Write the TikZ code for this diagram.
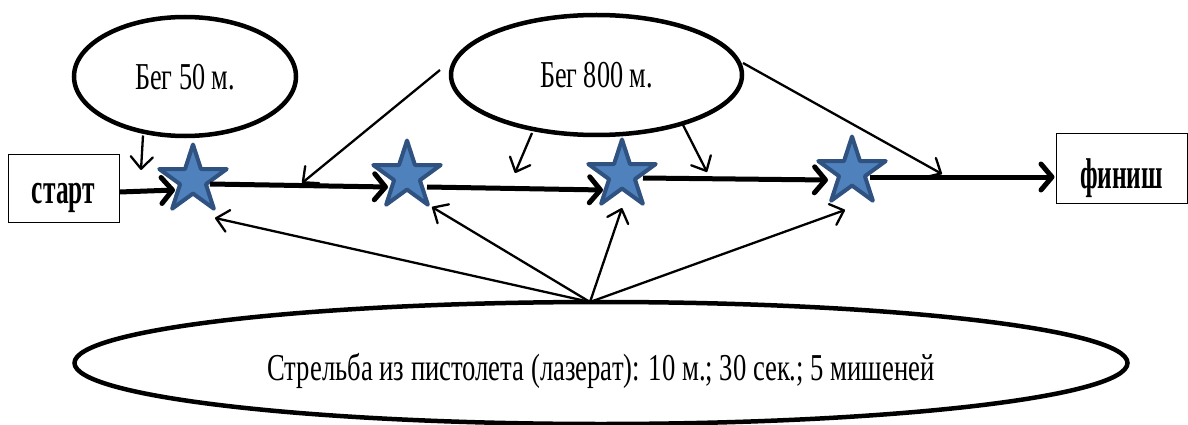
\documentclass[tikz,border=0pt]{standalone}
\usepackage{fontspec}
\setmainfont{Liberation Serif}
\usepackage{graphicx}
\usetikzlibrary{shapes.geometric,arrows.meta,calc}
\definecolor{starfill}{HTML}{4F81BD}
\definecolor{starline}{HTML}{2F5280}
\begin{document}
\begin{tikzpicture}[x=1pt,y=-1pt,
  oval/.style={ellipse,draw,line width=4.5pt,inner sep=0pt,text depth=0pt},
  box/.style={rectangle,draw,line width=1pt,inner sep=0pt,text depth=0pt},
  starnode/.style={star,star points=5,star point ratio=2.618,minimum size=71pt,inner sep=0pt,fill=starfill,draw=starline,line width=4pt,line join=round},
  track/.style={line width=5pt,-{Straight Barb[length=11pt,width=26pt,round]}},
  pointer/.style={line width=2.3pt,-{Straight Barb[length=12pt,width=22pt,round]}},
]
\useasboundingbox (0,0) rectangle (1188,425);
% ovals
\node[oval,minimum width=222pt,minimum height=119pt,text height=27pt] (run50) at (185,76.5)
  {\resizebox{100pt}{\height}{\fontsize{38}{40}\selectfont Бег 50 м.}};
\node[oval,minimum width=291pt,minimum height=120pt,text height=26pt] (run800) at (596.5,75)
  {\resizebox{113pt}{\height}{\fontsize{38}{40}\selectfont Бег 800 м.}};
\node[oval,minimum width=1053pt,minimum height=122pt,text height=34pt] (shoot) at (601,363)
  {\resizebox{667pt}{\height}{\fontsize{38}{40}\selectfont Стрельба из пистолета (лазерат): 10 м.; 30 сек.; 5 мишеней}};
% boxes
\node[box,minimum width=111pt,minimum height=68pt,text height=30pt] (start) at (63.5,188)
  {\resizebox{63pt}{\height}{\fontsize{43}{45}\selectfont\bfseries старт}};
\node[box,minimum width=131pt,minimum height=69pt,text height=39pt] (finish) at (1121.5,168.5)
  {\resizebox{83pt}{\height}{\fontsize{43}{45}\selectfont\bfseries финиш}};
% stars
\node[starnode] (s1) at (193,180) {};
\node[starnode] (s2) at (407,176) {};
\node[starnode] (s3) at (622,175) {};
\node[starnode] (s4) at (852,172) {};
% track
\draw[track] ($(start.east)+(0,4)$) -- ($(s1)+(-18,10)$);
\draw[track] ($(s1)+(17,4)$) -- ($(s2)+(-19,11)$);
\draw[track] ($(s2)+(20,11)$) -- ($(s3)+(-19,15)$);
\draw[track] ($(s3)+(21,3)$) -- ($(s4)+(-24,8)$);
\draw[track] ($(s4)+(18,5)$) -- ($(finish.west)+(-1,8.5)$);
% running pointers
\draw[pointer] ($(run50)+(-42,59)$) -- ($(run50)+(-44,93.5)$);
\draw[pointer] ($(run800)+(-156.5,-5)$) -- ($(s1)+(109,3)$);
\draw[pointer] ($(run800)+(-64.5,58)$) -- ($(run800)+(-81.5,98)$);
\draw[pointer] ($(run800)+(85.5,48)$) -- ($(run800)+(110.5,97)$);
\draw[pointer] ($(run800)+(146.5,-12)$) -- ($(s4)+(90,2)$);
% shooting pointers
\coordinate (apex) at ($(shoot)+(-11,-61)$);
\draw[pointer] (apex) -- ($(s1)+(22,38)$);
\draw[pointer] (apex) -- ($(s2)+(25,31)$);
\draw[pointer] (apex) -- ($(s3)+(0,33)$);
\draw[pointer] (apex) -- ($(s4)+(-7,38)$);
\end{tikzpicture}
\end{document}
